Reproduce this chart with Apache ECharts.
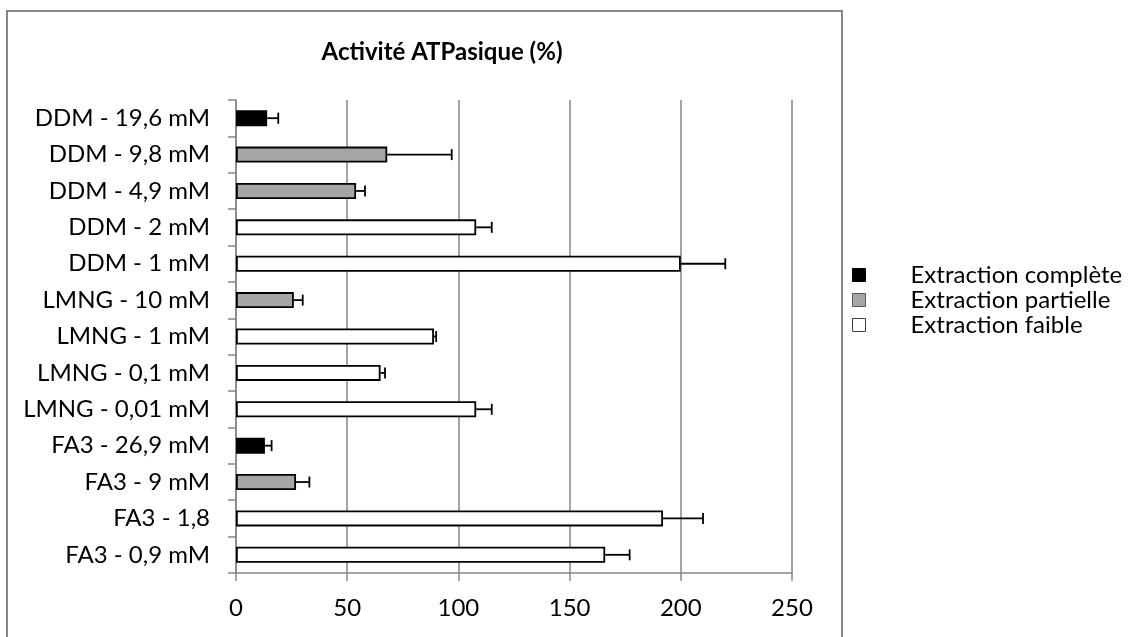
<!DOCTYPE html>
<html>
<head>
<meta charset="utf-8">
<script src="https://cdn.jsdelivr.net/npm/echarts@6/dist/echarts.min.js"></script>
<style>
html,body{margin:0;padding:0;background:#fff;}
#chart{width:1134px;height:637px;}
</style>
</head>
<body>
<div id="chart"></div>
<script>
const categories = ['DDM - 19,6 mM','DDM - 9,8 mM','DDM - 4,9 mM','DDM - 2 mM','DDM - 1 mM','LMNG - 10 mM','LMNG - 1 mM','LMNG - 0,1 mM','LMNG - 0,01 mM','FA3 - 26,9 mM','FA3 - 9 mM','FA3 - 1,8','FA3 - 0,9 mM'];
const activity = [14, 68, 54, 108, 200, 26, 89, 65, 108, 13, 27, 192, 166];
const errorPlus = [5, 29, 4, 7, 20, 4, 1, 2, 7, 3, 6, 18, 11];
const extraction = ['complète','partielle','partielle','faible','faible','partielle','faible','faible','faible','complète','partielle','faible','faible'];
const classes = ['complète','partielle','faible'];
const seriesNames = ['Extraction complète','Extraction partielle','Extraction faible'];
const fills = ['#000000','#a6a6a6','#ffffff'];
const xTicks = [0, 50, 100, 150, 200, 250];

const FONT = 'Lato';
const chart = echarts.init(document.getElementById('chart'));

const barSeries = classes.map((c, k) => ({
  name: seriesNames[k],
  type: 'bar',
  barWidth: 16,
  barGap: '-100%',
  itemStyle: { color: fills[k], borderColor: '#000', borderWidth: 1.8 },
  data: activity.map((v, i) => extraction[i] === c ? v : '-'),
  z: 2
}));

const errData = activity.map((v, i) => [i, v, errorPlus[i]]);

const option = {
  animation: false,
  backgroundColor: '#fff',
  title: {
    text: 'Activité ATPasique (%)',
    left: 437, top: 35, textAlign: 'center',
    textStyle: { fontFamily: FONT, fontWeight: 'bold', fontSize: 24, color: '#000' }
  },
  grid: { left: 236, right: 342, top: 100, bottom: 64, containLabel: false },
  xAxis: {
    type: 'value', min: 0, max: 250, interval: 50,
    axisLine: { show: true, lineStyle: { color: '#868686', width: 1.5 } },
    axisTick: { show: true, length: 8, lineStyle: { color: '#868686', width: 1.5 } },
    splitLine: { show: true, lineStyle: { color: '#868686', width: 1.5 } },
    axisLabel: { margin: 23, fontFamily: FONT, fontSize: 24, color: '#000',
      formatter: v => xTicks.includes(v) ? String(v) : '' }
  },
  yAxis: {
    type: 'category', data: categories, inverse: true,
    axisLine: { show: true, lineStyle: { color: '#868686', width: 1.5 } },
    axisTick: { show: true, length: 8, lineStyle: { color: '#868686', width: 1.5 } },
    axisLabel: { margin: 26, fontFamily: FONT, fontSize: 24, color: '#000' }
  },
  legend: {
    orient: 'vertical', left: 847, top: 258,
    itemWidth: 13, itemHeight: 13, itemGap: 1,
    icon: 'rect',
    textStyle: { fontFamily: FONT, fontSize: 24, color: '#000', padding: [0, 0, 0, 40] },
    data: [
      { name: seriesNames[0], itemStyle: { color: '#000', borderColor: '#000', borderWidth: 1 } },
      { name: seriesNames[1], itemStyle: { color: '#a6a6a6', borderColor: '#595959', borderWidth: 1 } },
      { name: seriesNames[2], itemStyle: { color: '#fff', borderColor: '#404040', borderWidth: 1 } }
    ]
  },
  graphic: [{
    type: 'rect', silent: true, z: -1,
    shape: { x: 7, y: 11, width: 835, height: 660 },
    style: { fill: 'none', stroke: '#868686', lineWidth: 2 }
  }],
  series: barSeries.concat([{
    name: 'err', type: 'custom', z: 3,
    data: errData,
    encode: { x: [1, 2], y: 0 },
    renderItem: function (params, api) {
      const cat = api.value(0), v = api.value(1), e = api.value(2);
      const p0 = api.coord([v, cat]);
      const p1 = api.coord([v + e, cat]);
      const style = { stroke: '#000', lineWidth: 1.8 };
      return {
        type: 'group',
        children: [
          { type: 'line', shape: { x1: p0[0], y1: p0[1], x2: p1[0], y2: p1[1] }, style: style },
          { type: 'line', shape: { x1: p1[0], y1: p1[1] - 5.5, x2: p1[0], y2: p1[1] + 5.5 }, style: style }
        ]
      };
    }
  }])
};
chart.setOption(option);
</script>
</body>
</html>
